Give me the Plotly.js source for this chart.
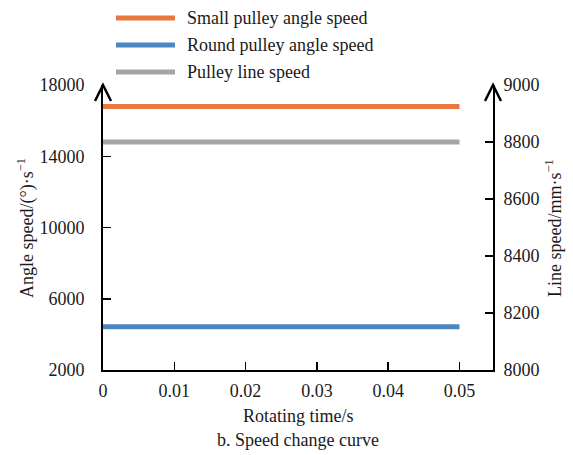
<!DOCTYPE html>
<html>
<head>
<meta charset="utf-8">
<script src="https://cdn.plot.ly/plotly-3.0.1.min.js"></script>
<style>html,body{margin:0;padding:0;background:#fff;}#chart{width:573px;height:455px;}</style>
</head>
<body>
<div id="chart"></div>
<script>
const times = [0, 0.01, 0.02, 0.03, 0.04, 0.05];
const smallPulleyAngle = [16800, 16800, 16800, 16800, 16800, 16800];
const roundPulleyAngle = [4430, 4430, 4430, 4430, 4430, 4430];
const pulleyLineSpeed = [8800, 8800, 8800, 8800, 8800, 8800];
const seriesNames = ["Small pulley angle speed", "Round pulley angle speed", "Pulley line speed"];
const seriesColors = ["#E9783F", "#4C87C1", "#A5A5A5"];
const xTicks = [0, 0.01, 0.02, 0.03, 0.04, 0.05];
const xTickText = ["0", "0.01", "0.02", "0.03", "0.04", "0.05"];
const leftTicks = [2000, 6000, 10000, 14000, 18000];
const rightTicks = [8000, 8200, 8400, 8600, 8800, 9000];

const FONT = "Liberation Serif";
const FS = 18;
const traces = [
  {x: times, y: smallPulleyAngle, name: seriesNames[0], mode: "lines", line: {color: seriesColors[0], width: 5}, yaxis: "y"},
  {x: times, y: roundPulleyAngle, name: seriesNames[1], mode: "lines", line: {color: seriesColors[1], width: 5}, yaxis: "y"},
  {x: times, y: pulleyLineSpeed, name: seriesNames[2], mode: "lines", line: {color: seriesColors[2], width: 5}, yaxis: "y2"}
];

// plot area in pixels: x 103..493, y 85..370
const px = (p) => (p - 103) / 390;
const py = (p) => (370 - p) / 285;

const arrow = (xa) => ({
  type: "path", xref: "paper", yref: "paper", xsizemode: "pixel", ysizemode: "pixel",
  xanchor: xa, yanchor: 1, path: "M-8,-16 L0,0 L8,-16",
  line: {color: "#000", width: 2.5}
});

const legendRows = [18, 45, 72];
const shapes = [arrow(0), arrow(1)];
const annotations = [];
seriesNames.forEach((n, i) => {
  shapes.push({type: "line", xref: "paper", yref: "paper", x0: px(116), x1: px(175), y0: py(legendRows[i]), y1: py(legendRows[i]),
    line: {color: seriesColors[i], width: 5}});
  annotations.push({text: n, xref: "paper", yref: "paper", x: px(185), y: py(legendRows[i]), xanchor: "left", yanchor: "middle",
    showarrow: false, font: {family: FONT, size: FS, color: "#1a1a1a"}});
});
annotations.push({text: "b. Speed change curve", xref: "paper", yref: "paper", x: 0.5, y: py(440), xanchor: "center", yanchor: "middle",
  showarrow: false, font: {family: FONT, size: FS, color: "#1a1a1a"}});
annotations.push({text: "Rotating time/s", xref: "paper", yref: "paper", x: 0.5, y: py(416), xanchor: "center", yanchor: "middle",
  showarrow: false, font: {family: FONT, size: FS, color: "#1a1a1a"}});
annotations.push({text: "Angle speed/(°)·s<sup>−1</sup>", xref: "paper", yref: "paper", x: px(26), y: py(228), xanchor: "center", yanchor: "middle",
  textangle: -90, showarrow: false, font: {family: FONT, size: FS, color: "#1a1a1a"}});
annotations.push({text: "Line speed/mm·s<sup>−1</sup>", xref: "paper", yref: "paper", x: px(553), y: py(228), xanchor: "center", yanchor: "middle",
  textangle: -90, showarrow: false, font: {family: FONT, size: FS, color: "#1a1a1a"}});

const axisCommon = {
  showline: true, linecolor: "#000", linewidth: 2, ticks: "inside", ticklen: 8, tickwidth: 1.5, tickcolor: "#000",
  showgrid: false, zeroline: false, automargin: false, tickfont: {family: FONT, size: FS, color: "#1a1a1a"}
};

const layout = {
  width: 573, height: 455,
  margin: {l: 103, r: 80, t: 85, b: 85},
  paper_bgcolor: "#fff", plot_bgcolor: "#fff",
  font: {family: FONT, size: FS, color: "#1a1a1a"},
  showlegend: false,
  xaxis: Object.assign({}, axisCommon, {range: [0, 0.0547], tickvals: xTicks, ticktext: xTickText, ticklabelstandoff: 3}),
  yaxis: Object.assign({}, axisCommon, {range: [2000, 18000], tickvals: leftTicks, tickformat: "d", ticklabelstandoff: 13}),
  yaxis2: Object.assign({}, axisCommon, {range: [8000, 9000], tickvals: rightTicks, tickformat: "d", overlaying: "y", side: "right", ticklabelstandoff: 5}),
  shapes: shapes,
  annotations: annotations
};

Plotly.newPlot("chart", traces, layout, {displayModeBar: false, staticPlot: true});
</script>
</body>
</html>
